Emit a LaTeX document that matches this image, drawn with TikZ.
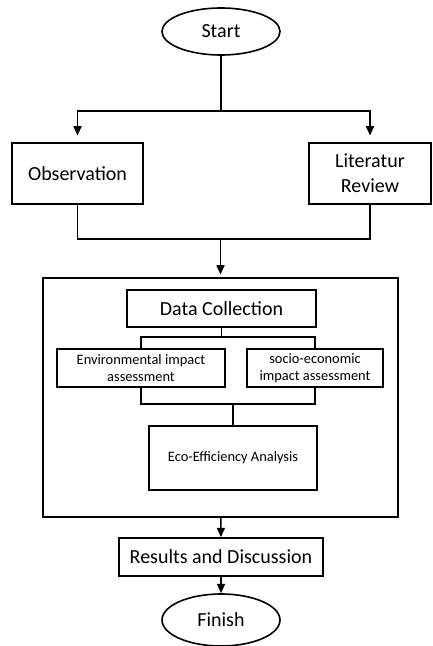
\documentclass[tikz,border=0pt]{standalone}
\usepackage{fontspec}
\setmainfont{Carlito}
\usetikzlibrary{positioning}
\usetikzlibrary{arrows.meta}
\usetikzlibrary{shapes.geometric}

\tikzset{
  box/.style={draw, rectangle, line width=1.2pt, align=center, inner sep=0pt},
  term/.style={draw, ellipse, line width=1.2pt, inner sep=0pt, minimum width=88.5pt},
  bigfont/.style={font=\fontsize{15pt}{18.75pt}\selectfont},
  smallfont/.style={font=\fontsize{10.8pt}{12.75pt}\selectfont},
  link/.style={line width=1.2pt},
  arrow/.style={link, -{Triangle[length=7pt,width=6pt]}}
}

\begin{document}
\begin{tikzpicture}[x=0.75pt,y=-0.75pt]
    % Set the size of the page (pixels of the reference)
    \useasboundingbox (0,0) rectangle (432,646);

    % Start and the two first steps
    \node[term, bigfont, minimum height=35.25pt] (start) at (221,31.5) {Start};
    \node[box, bigfont, minimum width=98.25pt, minimum height=45.75pt] (obs) at (77.5,173.5) {Observation};
    \node[box, bigfont, minimum width=91.5pt, minimum height=45.75pt] (lit) at (370,173.5) {Literatur\\Review};
    \coordinate (split) at (221,111);
    \coordinate (merge) at (220.5,239);

    % The frame around the analysis
    \node[box, minimum width=266.25pt, minimum height=179.25pt] (frame) at (220.5,397.5) {};
    \node[box, bigfont, minimum width=141.75pt, minimum height=27.75pt] (data) at (221.5,308.5) {Data Collection};
    \node[box, smallfont, minimum width=126pt, minimum height=28.5pt] (env) at (141,368) {Environmental impact\\assessment};
    \node[box, smallfont, minimum width=102pt, minimum height=28.5pt] (socio) at (315,368) {socio-economic\\impact assessment};
    \node[box, smallfont, minimum width=126pt, minimum height=48pt] (eco) at (233,458) {Eco-Efficiency Analysis};
    \coordinate (datasplit) at (221.5,337);
    \coordinate (join) at (233,404);

    % The last steps
    \node[box, bigfont, minimum width=153pt, minimum height=28.5pt] (results) at (221,557) {Results and Discussion};
    \node[term, bigfont, minimum height=39pt] (finish) at (221,620) {Finish};

    \draw[link] (start) -- (split);
    \draw[arrow, shorten >=5pt] (split) -| (obs);
    \draw[arrow, shorten >=5pt] (split) -| (lit);
    \draw[link] (obs) |- (merge) -| (lit);
    \draw[arrow, shorten >=2pt] (merge) -- (frame);

    \draw[link] (data) -- (datasplit);
    \draw[link] (datasplit) -| (env);
    \draw[link] (datasplit) -| (socio);
    \draw[link] (env) |- (join) -| (socio);
    \draw[link] (join) -- (eco);

    \draw[arrow] (frame) -- (results);
    \draw[arrow] (results) -- (finish);
\end{tikzpicture}
\end{document}
